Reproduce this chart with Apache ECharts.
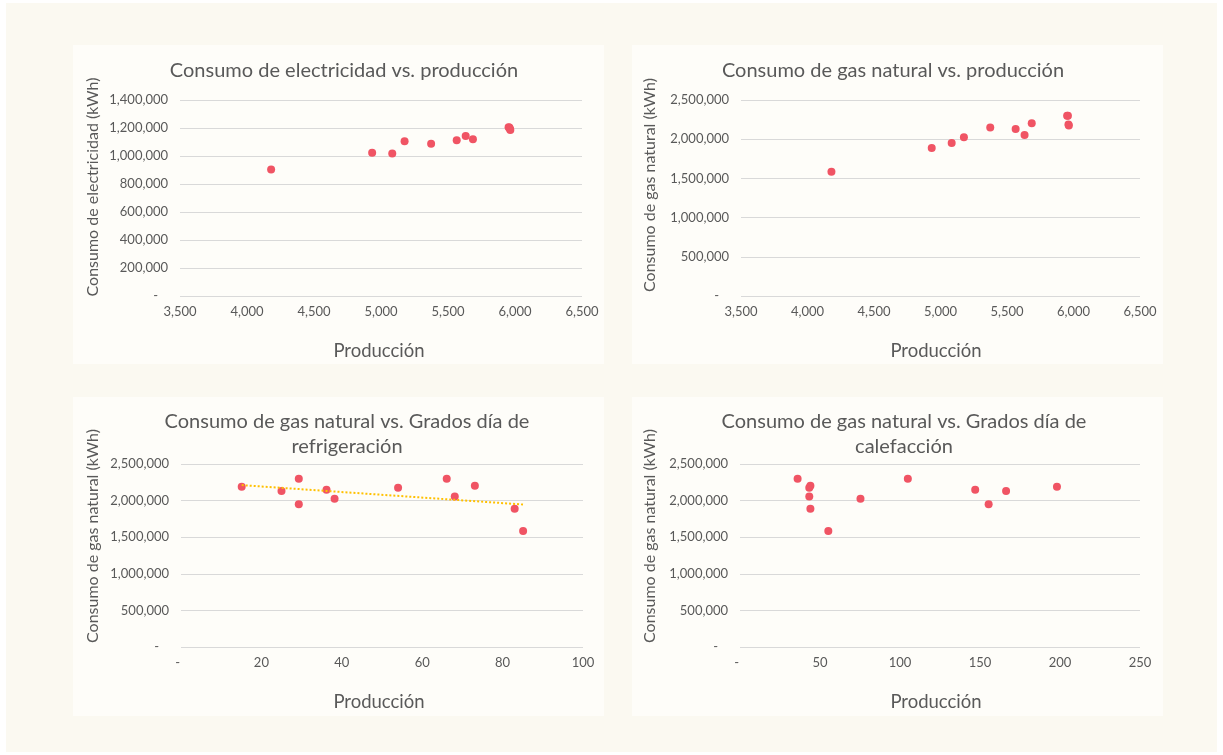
<!DOCTYPE html>
<html>
<head>
<meta charset="utf-8">
<script src="https://cdn.jsdelivr.net/npm/echarts@6/dist/echarts.min.js"></script>
<style>
  html, body { margin: 0; padding: 0; background: #FFFFFF; }
  #wrap { position: relative; width: 1223px; height: 755px; overflow: hidden; }
  .bg { position: absolute; left: 6px; top: 3px; width: 1211px; height: 749px; background: #FBF9F1; }
  .panel { position: absolute; background: #FEFDF9; }
  #chart { position: absolute; left: 0; top: 0; width: 1223px; height: 755px; }
</style>
</head>
<body>
<div id="wrap">
  <div class="bg"></div>
  <div class="panel" style="left:73px;top:45px;width:531px;height:319px;"></div>
  <div class="panel" style="left:632px;top:45px;width:531px;height:319px;"></div>
  <div class="panel" style="left:73px;top:397px;width:531px;height:319px;"></div>
  <div class="panel" style="left:632px;top:397px;width:531px;height:319px;"></div>
  <div id="chart"></div>
</div>
<script>
// ---- Data ----
const produccion   = [4180, 4934, 5084, 5176, 5374, 5565, 5632, 5686, 5952, 5958, 5962, 5965];
const electricidad = [904000, 1023000, 1017000, 1105000, 1088000, 1112000, 1143000, 1120000, 1206000, 1203000, 1195000, 1186000];
const gasNatural   = [1585000, 1888000, 1950000, 2025000, 2148000, 2130000, 2055000, 2203000, 2298000, 2298000, 2188000, 2175000];
const gradosRefrig = [85.1, 83.0, 29.3, 38.2, 36.2, 25.0, 68.1, 73.1, 29.3, 66.1, 15.1, 54.0];
const gradosCalef  = [55.2, 44.0, 155.4, 75.3, 147.0, 166.3, 43.3, 44.0, 104.9, 36.0, 198.1, 43.3];

const titles = [
  'Consumo de electricidad vs. producción',
  'Consumo de gas natural vs. producción',
  'Consumo de gas natural vs. Grados día de\nrefrigeración',
  'Consumo de gas natural vs. Grados día de\ncalefacción'
];
const yTitles = [
  'Consumo de electricidad (kWh)',
  'Consumo de gas natural (kWh)',
  'Consumo de gas natural (kWh)',
  'Consumo de gas natural (kWh)'
];
const xTitle = 'Producción';

// ---- Styling ----
const FONT = 'Lato, "Open Sans", sans-serif';
const TXT = '#595959';
const GRID = '#D9D9D9';
const DOT = '#F05464';

function fmt(v) {
  if (v === 0) return '-   ';
  return String(v).replace(/\B(?=(\d{3})+(?!\d))/g, ',');
}
function fmtX(v) {
  if (v === 0) return '-  ';
  return String(v).replace(/\B(?=(\d{3})+(?!\d))/g, ',');
}

// least-squares trendline (as Excel's linear trendline)
function linFit(xs, ys) {
  const n = xs.length;
  const mx = xs.reduce((a, b) => a + b, 0) / n;
  const my = ys.reduce((a, b) => a + b, 0) / n;
  let sxy = 0, sxx = 0;
  for (let i = 0; i < n; i++) { sxy += (xs[i] - mx) * (ys[i] - my); sxx += (xs[i] - mx) ** 2; }
  const b = sxy / sxx, a = my - b * mx;
  const x0 = Math.min(...xs), x1 = Math.max(...xs);
  return [[x0, a + b * x0], [x1, a + b * x1]];
}

const grids = [
  { left: 180, top: 100, width: 402, height: 196 },
  { left: 741, top: 100, width: 399, height: 196 },
  { left: 181, top: 464, width: 402, height: 183 },
  { left: 740, top: 464, width: 400, height: 183 }
];
const xRanges = [[3500, 6500, 500], [3500, 6500, 500], [0, 100, 20], [0, 250, 50]];
const yRanges = [[0, 1400000, 200000], [0, 2500000, 500000], [0, 2500000, 500000], [0, 2500000, 500000]];

const xAxes = xRanges.map((r, i) => ({
  type: 'value', gridIndex: i, min: r[0], max: r[1], interval: r[2],
  axisLine: { show: false }, axisTick: { show: false }, splitLine: { show: false },
  axisLabel: { color: TXT, fontFamily: FONT, fontSize: 13, margin: 9, formatter: fmtX, showMinLabel: true, showMaxLabel: true }
}));
const yAxes = yRanges.map((r, i) => ({
  type: 'value', gridIndex: i, min: r[0], max: r[1], interval: r[2],
  axisLine: { show: false }, axisTick: { show: false },
  splitLine: { show: true, lineStyle: { color: GRID, width: 1 } },
  axisLabel: { color: TXT, fontFamily: FONT, fontSize: 13, margin: 12, formatter: fmt }
}));

const pairs = [
  [produccion, electricidad],
  [produccion, gasNatural],
  [gradosRefrig, gasNatural],
  [gradosCalef, gasNatural]
];
const series = pairs.map((p, i) => ({
  type: 'scatter', xAxisIndex: i, yAxisIndex: i, symbolSize: 8,
  itemStyle: { color: DOT, opacity: 1 },
  data: p[0].map((x, k) => [x, p[1][k]]),
  z: 3
}));
series.push({
  type: 'line', xAxisIndex: 2, yAxisIndex: 2, symbol: 'none', z: 5,
  lineStyle: { color: '#FFC000', width: 2, type: 'dotted' },
  data: linFit(gradosRefrig, gasNatural)
});

// text positions
const titlePos = [[344, 71], [893, 71], [347, 434], [904, 434]];
const yTitlePos = [[93, 187], [650, 185], [93, 536], [650, 536]];
const xTitlePos = [[379, 351], [936, 351], [379, 702], [936, 702]];

const graphics = [];
titles.forEach((t, i) => graphics.push({
  type: 'text', x: titlePos[i][0], y: titlePos[i][1],
  style: { text: t, fill: TXT, font: '20px ' + FONT, textAlign: 'center', textVerticalAlign: 'middle', lineHeight: 25 }
}));
yTitles.forEach((t, i) => graphics.push({
  type: 'text', x: yTitlePos[i][0], y: yTitlePos[i][1], rotation: Math.PI / 2,
  style: { text: t, fill: TXT, font: '16px ' + FONT, textAlign: 'center', textVerticalAlign: 'middle' }
}));
xTitlePos.forEach((p) => graphics.push({
  type: 'text', x: p[0], y: p[1],
  style: { text: xTitle, fill: TXT, font: '18.5px ' + FONT, textAlign: 'center', textVerticalAlign: 'middle' }
}));

const chart = echarts.init(document.getElementById('chart'), null, { renderer: 'canvas' });
chart.setOption({
  backgroundColor: 'transparent',
  animation: false,
  grid: grids,
  xAxis: xAxes,
  yAxis: yAxes,
  series: series,
  graphic: graphics
});
</script>
</body>
</html>
